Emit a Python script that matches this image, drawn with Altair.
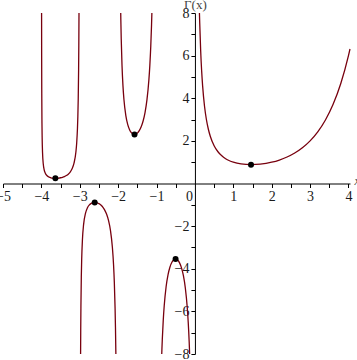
import altair as alt
import pandas as pd

# Branch curves (x, value), clipped at the frame +/-8
b1_x = [-3.9948, -3.993, -3.99, -3.985, -3.98, -3.97, -3.95, -3.93, -3.9, -3.85, -3.8, -3.75, -3.7, -3.65,
        -3.6, -3.55, -3.5, -3.45, -3.4, -3.35, -3.3, -3.25, -3.2, -3.15, -3.1, -3.08, -3.06, -3.05, -3.04,
        -3.03, -3.025, -3.0202]
b1_y = [8.0, 6.015, 4.230, 2.842, 2.148, 1.455, 0.902, 0.662, 0.492, 0.3605, 0.2996, 0.2679, 0.2517, 0.2455,
        0.2469, 0.2550, 0.2701, 0.2930, 0.3259, 0.3723, 0.4385, 0.5363, 0.6891, 0.9522, 1.4924, 1.9024, 2.590,
        3.142, 3.972, 5.358, 6.467, 8.0]

b2_x = [-2.9786, -2.975, -2.97, -2.96, -2.95, -2.93, -2.9, -2.85, -2.8, -2.75, -2.7, -2.65, -2.6, -2.55,
        -2.5, -2.45, -2.4, -2.35, -2.3, -2.25, -2.2, -2.15, -2.12, -2.1, -2.08, -2.07, -2.06, -2.0595]
b2_y = [-8.0, -6.886, -5.776, -4.392, -3.563, -2.620, -1.9185, -1.388, -1.1386, -1.0045, -0.9311, -0.8959,
        -0.8887, -0.9054, -0.9453, -1.0109, -1.108, -1.2471, -1.447, -1.743, -2.205, -2.9995, -3.809, -4.626,
        -5.859, -6.744, -7.926, -8.0]

b3_x = [-1.933, -1.93, -1.92, -1.9, -1.875, -1.85, -1.8, -1.75, -1.7, -1.65, -1.6, -1.55, -1.5, -1.45,
        -1.4, -1.35, -1.3, -1.25, -1.2, -1.175, -1.15, -1.13, -1.1213]
b3_y = [8.0, 7.676, 6.79, 5.564, 4.592, 3.956, 3.188, 2.762, 2.514, 2.374, 2.311, 2.309, 2.363, 2.477,
        2.659, 2.931, 3.328, 3.922, 4.851, 5.532, 6.449, 7.447, 8.0]

b4_x = [-0.8645, -0.86, -0.85, -0.825, -0.8, -0.75, -0.7, -0.65, -0.6, -0.55, -0.5, -0.45, -0.4, -0.35,
        -0.3, -0.25, -0.2, -0.175, -0.15, -0.1378]
b4_y = [-8.0, -7.777, -7.318, -6.410, -5.739, -4.834, -4.274, -3.917, -3.697, -3.579, -3.545, -3.592,
        -3.723, -3.957, -4.327, -4.902, -5.821, -6.501, -7.416, -8.0]

b5_x = [0.1175, 0.125, 0.15, 0.175, 0.2, 0.25, 0.3, 0.35, 0.4, 0.5, 0.6, 0.7, 0.8, 0.9, 1.0, 1.2, 1.4616,
        1.7, 2.0, 2.2, 2.4, 2.6, 2.8, 3.0, 3.2, 3.4, 3.6, 3.8, 4.0, 4.04]
b5_y = [8.0, 7.534, 6.22, 5.288, 4.591, 3.626, 2.992, 2.546, 2.218, 1.772, 1.489, 1.298, 1.164, 1.069, 1.0,
        0.9182, 0.8856, 0.9086, 1.0, 1.1018, 1.242, 1.430, 1.676, 2.0, 2.424, 2.981, 3.717, 4.694, 6.0, 6.31]

# Marked local extrema
ext_x = [-3.6352, -2.6107, -1.5734, -0.5040, 1.4616]
ext_y = [0.2454, -0.8881, 2.3028, -3.5446, 0.8856]

x_labels = [-5, -4, -3, -2, -1, 1, 2, 3, 4]
x_minor = [-4.5, -3.5, -2.5, -1.5, -0.5, 0.5, 1.5, 2.5, 3.5]
y_labels = [-8, -6, -4, -2, 2, 4, 6, 8]
y_minor = [-7, -5, -3, -1, 1, 3, 5, 7]
origin_label = ["0"]

frames = []
for name, xs, ys in [("b1", b1_x, b1_y), ("b2", b2_x, b2_y), ("b3", b3_x, b3_y),
                     ("b4", b4_x, b4_y), ("b5", b5_x, b5_y)]:
    frames.append(pd.DataFrame({"x": xs, "y": ys, "branch": name}))
curve_df = pd.concat(frames, ignore_index=True)
ext_df = pd.DataFrame({"x": ext_x, "y": ext_y})
zero_df = pd.DataFrame({"x": [0], "y": [0], "t": origin_label})

W, H = 347, 341
XMIN, XMAX = -5, 4.04
x0 = (0 - XMIN) / (XMAX - XMIN) * W
y0 = H / 2

FONT = "Liberation Serif"
INK = "#1a1a1a"

xscale = alt.Scale(domain=[XMIN, XMAX], nice=False, zero=False)
yscale = alt.Scale(domain=[-8, 8], nice=False, zero=False)

common = dict(grid=False, domainColor="black", tickColor="black", tickSize=4, labelPadding=2,
              labelFont=FONT, labelFontSize=14, labelColor=INK, labelOverlap=False,
              labelFlush=False, labelBound=False)

xaxis = alt.Axis(
    values=x_labels, orient="bottom", offset=-(H - y0), **common,
    title="x", titleFont=FONT, titleFontStyle="italic", titleFontWeight="normal",
    titleFontSize=12, titleColor="#444444", titleX=W + 4, titleY=-3, titleAlign="left",
    titleBaseline="middle", titleAngle=0,
)
yaxis = alt.Axis(
    values=y_labels, orient="left", offset=-x0, labelBaseline="middle", **common,
    title="Γ(x)", titleFont=FONT, titleFontWeight="normal", titleFontSize=13,
    titleColor="#444444", titleX=0, titleY=-5, titleAlign="center",
    titleBaseline="alphabetic", titleAngle=0,
)
xminor = alt.Axis(values=x_minor, orient="bottom", offset=-(H - y0), labels=False, domain=False,
                  grid=False, tickColor="black", tickSize=4, title=None)
yminor = alt.Axis(values=y_minor, orient="left", offset=-x0, labels=False, domain=False,
                  grid=False, tickColor="black", tickSize=4, title=None)

lines = alt.Chart(curve_df).mark_line(color="#78000E", strokeWidth=1.3, interpolate="monotone").encode(
    x=alt.X("x:Q", scale=xscale, axis=xaxis),
    y=alt.Y("y:Q", scale=yscale, axis=yaxis),
    detail="branch:N",
)
pts = alt.Chart(ext_df).mark_circle(color="black", size=36, opacity=1).encode(
    x=alt.X("x:Q", scale=xscale, axis=xminor),
    y=alt.Y("y:Q", scale=yscale, axis=yminor),
)
zero_txt = alt.Chart(zero_df).mark_text(
    align="right", baseline="top", dx=-2, dy=6, font=FONT, fontSize=14, color=INK
).encode(
    x=alt.X("x:Q", scale=xscale, axis=None),
    y=alt.Y("y:Q", scale=yscale, axis=None),
    text="t:N",
)

chart = alt.layer(lines, pts, zero_txt).resolve_axis(x="independent", y="independent").properties(
    width=W, height=H,
    padding={"left": 3, "top": 13, "right": 7, "bottom": 6},
    autosize="none",
).configure_view(stroke=None)

chart.save("out.html", embed_options={"renderer": "svg", "actions": False})
